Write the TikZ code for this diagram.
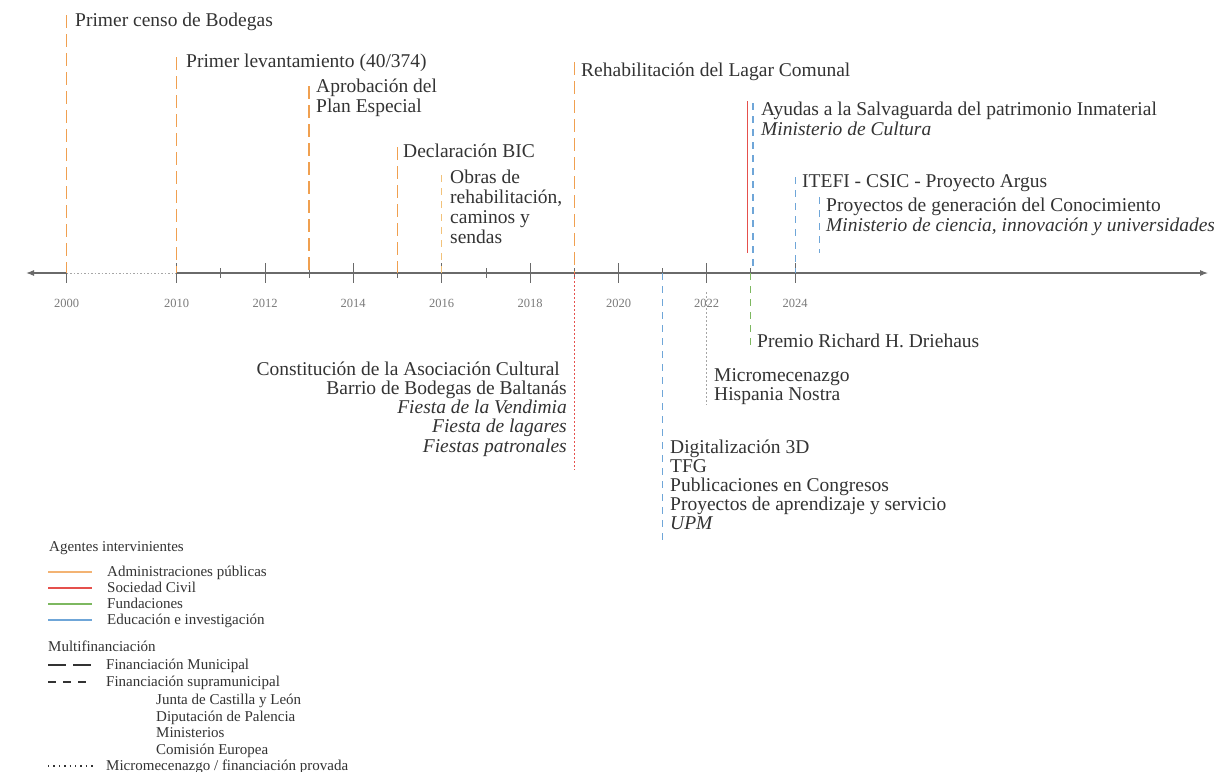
\documentclass[tikz,border=0pt]{standalone}
\usepackage{fontspec}
\setmainfont{Liberation Serif}
\usetikzlibrary{arrows.meta}

\definecolor{txt}{HTML}{333333}
\definecolor{axisc}{HTML}{6A6A6A}
\definecolor{yearc}{HTML}{7A7A7A}
\definecolor{orangec}{HTML}{F0A050}
\definecolor{yellowc}{HTML}{F2C27A}
\definecolor{redc}{HTML}{E5504C}
\definecolor{greenc}{HTML}{7DB860}
\definecolor{bluec}{HTML}{6FA6D8}
\definecolor{grayc}{HTML}{A5A5A5}

\begin{document}
\begin{tikzpicture}[x=1pt,y=-1pt,
  evt/.style={font=\fontsize{19.5}{20}\selectfont, text=txt, inner sep=0pt, anchor=base west},
  evtr/.style={evt, anchor=base east},
  evti/.style={evt, font=\fontsize{19.5}{20}\selectfont\itshape},
  evtri/.style={evtr, font=\fontsize{19.5}{20}\selectfont\itshape},
  yearlbl/.style={font=\fontsize{12.5}{12.5}\selectfont, text=yearc, inner sep=0pt},
  leg/.style={font=\fontsize{15}{15}\selectfont, text=txt, inner sep=0pt, anchor=base west},
  axisline/.style={draw=axisc, line width=1.1pt},
  axisdots/.style={draw=axisc!60, line width=0.9pt, dash pattern=on 1.5pt off 2pt},
  majortick/.style={draw=axisc, line width=1pt},
  minortick/.style={draw=axisc, line width=0.9pt},
  muni/.style={draw=orangec, line width=1.3pt, dash pattern=on 13pt off 6pt},
  supra/.style={line width=1.1pt, dash pattern=on 7pt off 6pt},
  privada/.style={line width=1.3pt, dash pattern=on 1.6pt off 2.4pt},
  civil/.style={draw=redc, line width=1.5pt}
]
\useasboundingbox (0,0) rectangle (1214,771);
\fill[white] (0,0) rectangle (1214,771);

% ---------- time axis ----------
\coordinate (axL) at (26,273);
\coordinate (axR) at (1208,273);
\coordinate (ax2000) at (66.5,273);
\coordinate (ax2010) at (176.5,273);
\draw[axisline, {Latex[length=8pt,width=6pt]}-] (axL) -- (ax2000);
\draw[axisdots] (ax2000) -- (ax2010);
\draw[axisline, -{Latex[length=8pt,width=6pt]}] (ax2010) -- (axR);

\foreach \yr/\xx in {2000/66.5, 2010/176.5, 2012/265, 2014/353, 2016/441.5, 2018/530, 2020/618.5, 2022/706.5, 2024/795} {
  \draw[majortick] (\xx,263) -- (\xx,283);
  \node[yearlbl] (yr\yr) at (\xx,303) {\yr};
}
\foreach \xx in {220.7, 309, 397.5, 486, 574.5, 662.5, 750.7} {
  \draw[minortick] (\xx,268) -- (\xx,278);
}

% ---------- events above the axis ----------
\coordinate (t2000) at (66.5,15);   \coordinate (b2000) at (66.5,273);
\draw[muni] (t2000) -- (b2000);
\node[evt] (censo) at (75,27) {Primer censo de Bodegas};

\coordinate (t2010) at (176.5,57);  \coordinate (b2010) at (176.5,273);
\draw[muni] (t2010) -- (b2010);
\node[evt] (levant) at (186,67) {Primer levantamiento (40/374)};

\coordinate (t2013) at (309,86);    \coordinate (b2013) at (309,273);
\draw[muni] (t2013) -- (b2013);
\node[evt] (aprob1) at (316,92) {Aprobación del};
\node[evt] (aprob2) at (316,112) {Plan Especial};

\coordinate (t2015) at (397.5,147); \coordinate (b2015) at (397.5,273);
\draw[muni] (t2015) -- (b2015);
\node[evt] (bic) at (403,157) {Declaración BIC};

\coordinate (t2016) at (441.5,175); \coordinate (b2016) at (441.5,273);
\draw[supra, draw=yellowc] (t2016) -- (b2016);
\node[evt] (obras1) at (450,183) {Obras de};
\node[evt] (obras2) at (450,203) {rehabilitación,};
\node[evt] (obras3) at (450,223) {caminos y};
\node[evt] (obras4) at (450,243) {sendas};

\coordinate (t2019) at (574.5,62);  \coordinate (b2019) at (574.5,273);
\draw[muni] (t2019) -- (b2019);
\node[evt] (lagar) at (581,76) {Rehabilitación del Lagar Comunal};

\coordinate (t2023r) at (747.5,101); \coordinate (b2023r) at (747.5,253);
\draw[civil] (t2023r) -- (b2023r);
\coordinate (t2023b) at (753,103);  \coordinate (b2023b) at (753,270);
\draw[supra, draw=bluec] (t2023b) -- (b2023b);
\node[evt] (ayudas) at (761,115) {Ayudas a la Salvaguarda del patrimonio Inmaterial};
\node[evti] (mcult) at (761,135) {Ministerio de Cultura};

\coordinate (t2024) at (795.5,177); \coordinate (b2024) at (795.5,273);
\draw[supra, draw=bluec] (t2024) -- (b2024);
\node[evt] (argus) at (802,187) {ITEFI - CSIC - Proyecto Argus};

\coordinate (t2024b) at (819.5,197); \coordinate (b2024b) at (819.5,253);
\draw[supra, draw=bluec] (t2024b) -- (b2024b);
\node[evt] (pgc) at (826,211) {Proyectos de generación del Conocimiento};
\node[evti] (mciu) at (826,231) {Ministerio de ciencia, innovación y universidades};

% ---------- events below the axis ----------
\coordinate (u2019) at (574.5,273); \coordinate (d2019) at (574.5,470);
\draw[privada, draw=redc] (u2019) -- (d2019);
\node[evtr] (asoc1) at (560,375) {Constitución de la Asociación Cultural};
\node[evtr] (asoc2) at (567,394) {Barrio de Bodegas de Baltanás};
\node[evtri] (fiesta1) at (567,413) {Fiesta de la Vendimia};
\node[evtri] (fiesta2) at (567,432) {Fiesta de lagares};
\node[evtri] (fiesta3) at (567,452) {Fiestas patronales};

\coordinate (u2021) at (662.5,273); \coordinate (d2021) at (662.5,540);
\draw[supra, draw=bluec] (u2021) -- (d2021);
\node[evt] (dig) at (670,453) {Digitalización 3D};
\node[evt] (tfg) at (670,472) {TFG};
\node[evt] (publ) at (670,491) {Publicaciones en Congresos};
\node[evt] (aps) at (670,510) {Proyectos de aprendizaje y servicio};
\node[evti] (upm) at (670,529) {UPM};

\coordinate (u2022) at (706.5,292); \coordinate (d2022) at (706.5,405);
\draw[privada, draw=grayc] (u2022) -- (d2022);
\node[evt] (micro) at (714,381) {Micromecenazgo};
\node[evt] (hisp) at (714,400) {Hispania Nostra};

\coordinate (u2023) at (750.7,273); \coordinate (d2023) at (750.7,350);
\draw[supra, draw=greenc] (u2023) -- (d2023);
\node[evt] (premio) at (757,347) {Premio Richard H. Driehaus};

% ---------- legend ----------
\node[leg] (lagentes) at (49,551) {Agentes intervinientes};
\foreach \nm/\col/\yy/\lab in {adm/orangec!80/572/Administraciones públicas,
                               soc/redc/588/Sociedad Civil,
                               fun/greenc/604/Fundaciones,
                               edu/bluec/620/Educación e investigación} {
  \coordinate (ls\nm) at (48,\yy);
  \coordinate (le\nm) at (92,\yy);
  \draw[draw=\col, line width=1.3pt] (ls\nm) -- (le\nm);
  \node[leg] (l\nm) at (107,\yy+4.5) {\lab};
}
\node[leg] (lmulti) at (48,651) {Multifinanciación};
\coordinate (lsmun) at (48,665); \coordinate (lemun) at (92,665);
\draw[draw=txt, line width=1.2pt, dash pattern=on 18pt off 7pt] (lsmun) -- (lemun);
\node[leg] (lmun) at (106,669.5) {Financiación Municipal};
\coordinate (lssup) at (48,682); \coordinate (lesup) at (92,682);
\draw[draw=txt, line width=1.2pt, dash pattern=on 8pt off 7pt] (lssup) -- (lesup);
\node[leg] (lsup) at (106,686.5) {Financiación supramunicipal};
\node[leg] (ljcyl) at (156,704) {Junta de Castilla y León};
\node[leg] (ldip) at (156,721) {Diputación de Palencia};
\node[leg] (lmin) at (156,737) {Ministerios};
\node[leg] (lce) at (156,754) {Comisión Europea};
\coordinate (lspri) at (48,766); \coordinate (lepri) at (94,766);
\draw[draw=txt, line width=1.2pt, dash pattern=on 1.4pt off 4pt] (lspri) -- (lepri);
\node[leg] (lpri) at (106,770) {Micromecenazgo / financiación provada};
\end{tikzpicture}
\end{document}
